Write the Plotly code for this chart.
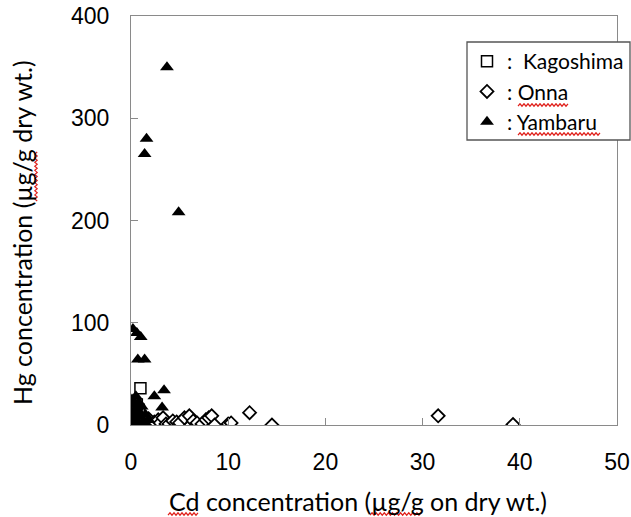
import plotly.graph_objects as go

# Kagoshima (open squares)
kag_cd = [0.97, 0.5, 0.8, 0.3, 1.2, 0.6]
kag_hg = [36, 8, 15, 3, 5, 20]

# Onna (open diamonds)
onna_cd = [0.5, 1.0, 1.4, 1.8, 2.1, 2.4, 2.8, 3.0, 3.3, 3.6, 3.9, 4.3, 4.7, 5.0,
           5.5, 6.0, 6.4, 6.8, 7.3, 7.7, 8.0, 8.3, 8.6, 10.0, 10.3, 12.2, 14.5, 31.6, 39.3]
onna_hg = [2, 4, 1, 6, 0, 3, 5, 2, 7, 1, 1, 4, 3, 2,
           7, 9, 4, 2, 1, 5, 7, 9, 0, 1, 2, 12, 0, 9, 0.5]

# Yambaru (filled triangles)
yam_cd = [3.7, 1.6, 1.4, 4.9, 0.2, 0.6, 1.0, 0.7, 1.4, 2.4, 3.4, 3.2, 0.1, 0.3, 0.5,
          0.8, 0.2, 0.6, 1.0, 1.3, 0.4, 0.9, 1.5, 0.2, 0.7, 1.8, 1.1, 0.5, 0.1, 0.3]
yam_hg = [350, 280, 265, 208, 94, 90, 86, 64, 64, 28, 34, 17, 25, 20, 15,
          22, 10, 5, 8, 3, 2, 12, 10, 0, 0, 5, 18, 28, 5, 14]

x_ticks = [0, 10, 20, 30, 40, 50]
y_ticks = [0, 100, 200, 300, 400]

series_names = [":\u00a0 Kagoshima", ": Onna", ": Yambaru"]
x_title = "Cd concentration (µg/g on dry wt.)"
y_title = "Hg concentration (µg/g dry wt.)"

W, H = 631, 517
ML, MR, MT, MB = 131, 14, 16, 92
PW, PH = W - ML - MR, H - MT - MB


def px_to_paper(px, py):
    return (px - ML) / PW, (H - MB - py) / PH


def squiggle(x0, x1, y, vertical=False):
    """red spell-check style wavy underline, given in pixel space"""
    pts = []
    n = int(abs(x1 - x0) / 2)
    for i in range(n + 1):
        t = x0 + (x1 - x0) * i / n
        d = 1.2 if i % 2 == 0 else -1.2
        if vertical:
            pts.append(px_to_paper(y + d, t))
        else:
            pts.append(px_to_paper(t, y + d))
    path = "M " + " L ".join(f"{a:.5f},{b:.5f}" for a, b in pts)
    return dict(type="path", path=path, xref="paper", yref="paper",
                line=dict(color="#e0201b", width=1.2), layer="above")


fig = go.Figure()
fig.add_trace(go.Scatter(
    x=kag_cd, y=kag_hg, mode="markers", name=series_names[0],
    marker=dict(symbol="square", size=11, color="white",
                line=dict(color="black", width=1.5))))
fig.add_trace(go.Scatter(
    x=onna_cd, y=onna_hg, mode="markers", name=series_names[1],
    marker=dict(symbol="diamond", size=10, color="white",
                line=dict(color="black", width=1.8))))
fig.add_trace(go.Scatter(
    x=yam_cd, y=yam_hg, mode="markers", name=series_names[2],
    marker=dict(symbol="triangle-up", size=12, color="black",
                line=dict(color="black", width=0))))

axis_common = dict(
    showgrid=False, zeroline=False, showline=True, linecolor="#8a8a8a",
    linewidth=1.3, mirror=True, ticks="inside", ticklen=7, tickcolor="#8a8a8a",
    tickfont=dict(family="Liberation Sans, Arial, sans-serif", size=23, color="black"),
    ticklabelstandoff=16,
)

fig.update_xaxes(range=[0, 50], tickvals=x_ticks,
                 ticktext=[str(v) for v in x_ticks], **axis_common)
fig.update_yaxes(range=[0, 400], tickvals=y_ticks,
                 ticktext=[str(v) for v in y_ticks], **axis_common)

title_font = dict(family="Lato, sans-serif", size=25, color="black")
xt = px_to_paper(358, 501)
yt = px_to_paper(22, 233)
fig.add_annotation(text=x_title, x=xt[0], y=xt[1], xref="paper", yref="paper",
                   xanchor="center", yanchor="middle", showarrow=False, font=title_font)
fig.add_annotation(text=y_title, x=yt[0], y=yt[1], xref="paper", yref="paper",
                   xanchor="center", yanchor="middle", showarrow=False,
                   textangle=-90, font=title_font)

# legend frame (opaque, covering the plot border like the reference)
lx0, ly0 = px_to_paper(467, 42)
lx1, ly1 = px_to_paper(630, 140)
shapes = [
    dict(type="rect", xref="paper", yref="paper", x0=lx0, x1=lx1, y0=ly1, y1=ly0,
         fillcolor="white", line=dict(color="#555555", width=1.3), layer="above"),
    squiggle(168, 198, 514),
    squiggle(370, 421, 514),
    squiggle(201, 152, 36, vertical=True),
    squiggle(518, 568, 105),
    squiggle(518, 600, 134),
]

lgx, lgy = px_to_paper(467, 41)
fig.update_layout(
    width=W, height=H,
    margin=dict(l=ML, r=MR, t=MT, b=MB, autoexpand=False),
    plot_bgcolor="white", paper_bgcolor="white",
    showlegend=True,
    legend=dict(
        x=lgx, y=lgy, xanchor="left", yanchor="top",
        bgcolor="rgba(0,0,0,0)", borderwidth=0,
        font=dict(family="Lato, sans-serif", size=21, color="black"),
        tracegroupgap=0, itemwidth=30,
    ),
    shapes=shapes,
)

fig.write_html("out.html")
